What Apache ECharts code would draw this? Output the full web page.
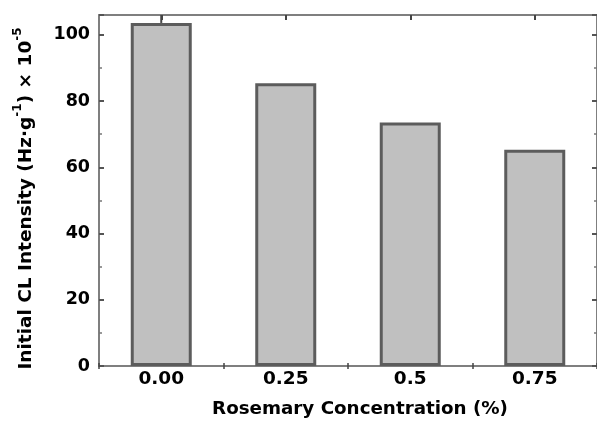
<!DOCTYPE html>
<html>
<head>
<meta charset="utf-8">
<script src="https://cdn.jsdelivr.net/npm/echarts@6/dist/echarts.min.js"></script>
<style>
html,body{margin:0;padding:0;background:#fff;}
#chart{width:597px;height:423px;}
</style>
</head>
<body>
<div id="chart"></div>
<script>
const categories = ['0.00', '0.25', '0.5', '0.75'];
const intensity = [103.6, 85.4, 73.5, 65.3];
const errors = [2.6, 0, 0, 0];
const yTicks = [0, 20, 40, 60, 80, 100];

const FONT = 'DejaVu Sans';
const axisColor = '#7f7f7f';
const chart = echarts.init(document.getElementById('chart'));

const hiddenCat = (pos) => ({
  type: 'category', data: categories, position: pos, gridIndex: 0,
  axisLine: {show: false}, axisLabel: {show: false},
  axisTick: {show: true, inside: true, length: 3, alignWithLabel: false, lineStyle: {color: '#444', width: 1.5}},
  splitLine: {show: false}
});

const option = {
  backgroundColor: '#fff',
  animation: false,
  grid: {left: 99, right: -6, top: 15, bottom: 54, containLabel: false},
  xAxis: [
    {
      type: 'category', data: categories, position: 'bottom',
      axisLine: {show: true, onZero: false, lineStyle: {color: axisColor, width: 2}},
      axisTick: {show: true, inside: true, length: 5, alignWithLabel: true, lineStyle: {color: '#444', width: 2}},
      axisLabel: {color: '#000', fontFamily: FONT, fontWeight: 'bold', fontSize: 18.5, margin: 4},
      name: 'Rosemary Concentration (%)',
      nameLocation: 'middle', nameGap: 34,
      nameTextStyle: {color: '#000', fontFamily: FONT, fontWeight: 'bold', fontSize: 18.3, padding: [0, 0, 0, 24]}
    },
    {
      type: 'category', data: categories, position: 'top',
      axisLine: {show: true, onZero: false, lineStyle: {color: axisColor, width: 2}},
      axisTick: {show: true, inside: true, length: 5, alignWithLabel: true, lineStyle: {color: '#444', width: 2}},
      axisLabel: {show: false}
    },
    hiddenCat('bottom'),
    hiddenCat('top')
  ],
  yAxis: [
    {
      type: 'value', min: 0, max: 106, interval: 20, position: 'left',
      axisLine: {show: true, onZero: false, lineStyle: {color: axisColor, width: 2}},
      axisTick: {show: true, inside: true, length: 5, lineStyle: {color: '#555', width: 2}},
      minorTick: {show: true, splitNumber: 2, length: 3, lineStyle: {color: '#777', width: 1.5}},
      splitLine: {show: false},
      axisLabel: {
        color: '#000', fontFamily: FONT, fontWeight: 'bold', fontSize: 17.5, margin: 9,
        formatter: v => (yTicks.indexOf(v) >= 0 ? String(v) : '')
      },
      name: '{a|Initial CL Intensity (Hz·g}{s|-1}{a|) × 10}{s|-5}',
      nameLocation: 'middle', nameGap: 63, nameRotate: 90,
      nameTextStyle: {
        padding: [0, 16, 0, 0],
        rich: {
          a: {color: '#000', fontFamily: FONT, fontWeight: 'bold', fontSize: 18.5, lineHeight: 24, verticalAlign: 'bottom'},
          s: {color: '#000', fontFamily: FONT, fontWeight: 'bold', fontSize: 12, lineHeight: 24, verticalAlign: 'top'}
        }
      }
    },
    {
      type: 'value', min: 0, max: 106, interval: 20, position: 'right',
      axisLine: {show: true, onZero: false, lineStyle: {color: axisColor, width: 2}},
      axisTick: {show: true, inside: true, length: 5, lineStyle: {color: '#555', width: 2}},
      minorTick: {show: true, splitNumber: 2, length: 3, lineStyle: {color: '#777', width: 1.5}},
      splitLine: {show: false},
      axisLabel: {show: false}
    }
  ],
  series: [
    {
      type: 'bar', data: intensity, xAxisIndex: 0, yAxisIndex: 0,
      barWidth: 61,
      itemStyle: {color: '#c0c0c0', borderColor: '#5c5c5c', borderWidth: 3},
      z: 2
    },
    {
      type: 'custom', xAxisIndex: 0, yAxisIndex: 0, z: 3, clip: true,
      data: intensity.map((v, i) => [i, v, errors[i]]),
      renderItem: function (params, api) {
        const i = api.value(0), v = api.value(1), e = api.value(2);
        if (!e) return null;
        const p1 = api.coord([i, v]);
        const p2 = api.coord([i, v + e]);
        return {
          type: 'line',
          shape: {x1: p1[0], y1: p1[1], x2: p2[0], y2: p2[1]},
          style: {stroke: '#444', lineWidth: 2}
        };
      }
    }
  ]
};
chart.setOption(option);
</script>
</body>
</html>
